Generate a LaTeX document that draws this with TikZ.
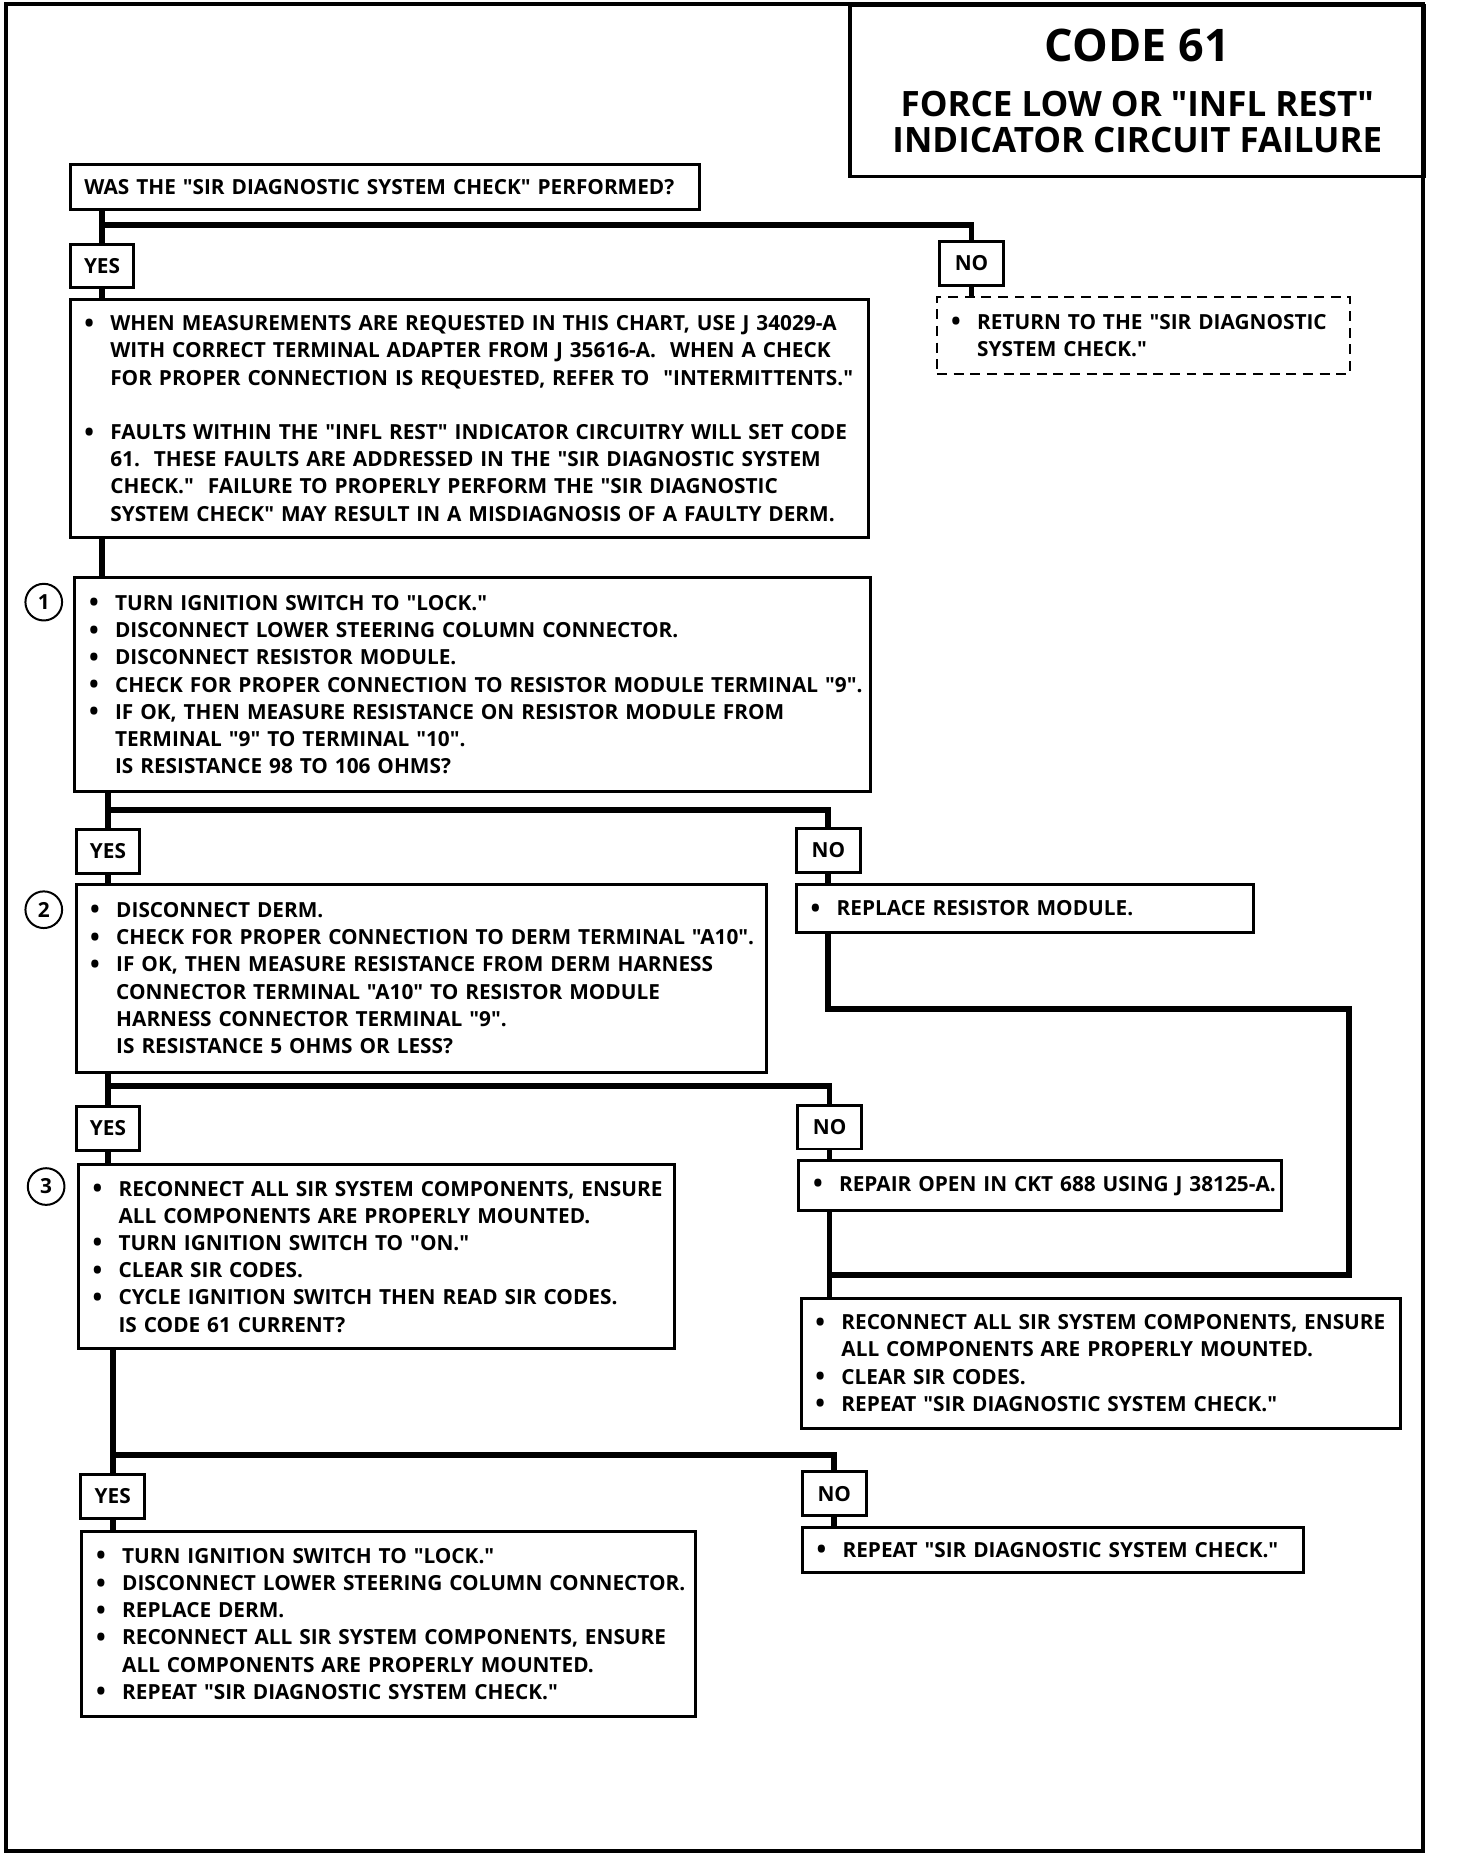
\documentclass[tikz,border=0pt]{standalone}
\usepackage{fontspec}
\newfontfamily\chartfont{Open Sans}

\newlength{\pu}
\setlength{\pu}{0.025cm}
\newcommand{\dotmark}{\smash{\raisebox{-0.9pt}{\fontsize{15.5}{15.5}\selectfont\textbullet}}}
\newcommand{\itm}[1]{\makebox[22\pu][l]{\dotmark}\mbox{#1}}
\newcommand{\cnt}[1]{\hspace*{22\pu}\mbox{#1}}

\tikzset{
    box/.style 2 args={draw, line width=1.8pt, anchor=north west, text width=#1\pu,
        minimum height=#2\pu, inner xsep=12\pu, inner ysep=0pt, align=left,
        font=\chartfont\bfseries\fontsize{12.5}{16.36}\selectfont},
    lbl/.style={draw, line width=1.8pt, anchor=north west, minimum width=54\pu,
        minimum height=37\pu, inner sep=0pt, font=\chartfont\bfseries\fontsize{12.5}{15}\selectfont},
    num/.style={draw, circle, line width=1.2pt, minimum size=31\pu, inner sep=0pt,
        font=\chartfont\bfseries\fontsize{12.5}{15}\selectfont},
    flow/.style={line width=3.5pt},
}

\begin{document}
\begin{tikzpicture}[x=0.025cm, y=-0.025cm]
    \useasboundingbox (0,0) rectangle (1231,1574);
    \draw[line width=2.4pt] (5,3) rectangle (1203,1565);

    \node[draw, line width=2pt, anchor=north west, minimum width=486\pu, minimum height=145\pu,
        align=center, font=\chartfont\bfseries\fontsize{21}{22}\selectfont] (title) at (717,3)
        {{\fontsize{27}{30}\selectfont CODE 61}\\[11pt]FORCE LOW OR "INFL REST"\\INDICATOR CIRCUIT FAILURE};

    \node[box={508}{38}] (q) at (58,138) {\mbox{WAS THE "SIR DIAGNOSTIC SYSTEM CHECK" PERFORMED?}};
    \coordinate (bar1) at (0,190);
    \node[lbl] (yes1) at (58,205) {YES};
    \node[lbl] (no1) at (793,203) {NO};

    \node[box={325}{65}, dash pattern=on 6pt off 4pt, line width=1.5pt] (ret) at (791,250)
        {\itm{RETURN TO THE "SIR DIAGNOSTIC}\\\cnt{SYSTEM CHECK."}};

    \node[box={651}{201}] (boxA) at (58,252)
        {\itm{WHEN MEASUREMENTS ARE REQUESTED IN THIS CHART, USE J 34029-A}\\
         \cnt{WITH CORRECT TERMINAL ADAPTER FROM J 35616-A.\ \ WHEN A CHECK}\\
         \cnt{FOR PROPER CONNECTION IS REQUESTED, REFER TO\ \ "INTERMITTENTS."}\\[23\pu]
         \itm{FAULTS WITHIN THE "INFL REST" INDICATOR CIRCUITRY WILL SET CODE}\\
         \cnt{61.\ \ THESE FAULTS ARE ADDRESSED IN THE "SIR DIAGNOSTIC SYSTEM}\\
         \cnt{CHECK."\ \ FAILURE TO PROPERLY PERFORM THE "SIR DIAGNOSTIC}\\
         \cnt{SYSTEM CHECK" MAY RESULT IN A MISDIAGNOSIS OF A FAULTY DERM.}};

    % step 1
    \node[num] (n1) at (37,509) {1};
    \node[box={649}{181}] (box1) at (62,487)
        {\itm{TURN IGNITION SWITCH TO "LOCK."}\\
         \itm{DISCONNECT LOWER STEERING COLUMN CONNECTOR.}\\
         \itm{DISCONNECT RESISTOR MODULE.}\\
         \itm{CHECK FOR PROPER CONNECTION TO RESISTOR MODULE TERMINAL "9".}\\
         \itm{IF OK, THEN MEASURE RESISTANCE ON RESISTOR MODULE FROM}\\
         \cnt{TERMINAL "9" TO TERMINAL "10".}\\
         \cnt{IS RESISTANCE 98 TO 106 OHMS?}};
    \coordinate (bar2) at (0,685);
    \node[lbl] (yes2) at (63,700) {YES};
    \node[lbl] (no2) at (672,699) {NO};
    \node[box={362}{41}] (repl) at (672,746) {\itm{REPLACE RESISTOR MODULE.}};

    % step 2
    \node[num] (n2) at (37,769) {2};
    \node[box={560}{159}] (box2) at (63,746)
        {\itm{DISCONNECT DERM.}\\
         \itm{CHECK FOR PROPER CONNECTION TO DERM TERMINAL "A10".}\\
         \itm{IF OK, THEN MEASURE RESISTANCE FROM DERM HARNESS}\\
         \cnt{CONNECTOR TERMINAL "A10" TO RESISTOR MODULE}\\
         \cnt{HARNESS CONNECTOR TERMINAL "9".}\\
         \cnt{IS RESISTANCE 5 OHMS OR LESS?}};
    \coordinate (bar3) at (0,918);
    \coordinate (loop) at (1140,853);
    \coordinate (join) at (0,1078);
    \node[lbl] (yes3) at (63,934) {YES};
    \node[lbl] (no3) at (673,933) {NO};
    \node[box={384}{42}] (repair) at (674,980) {\itm{REPAIR OPEN IN CKT 688 USING J 38125-A.}};
    \node[box={483}{110}] (boxR) at (676,1096)
        {\itm{RECONNECT ALL SIR SYSTEM COMPONENTS, ENSURE}\\
         \cnt{ALL COMPONENTS ARE PROPERLY MOUNTED.}\\
         \itm{CLEAR SIR CODES.}\\
         \itm{REPEAT "SIR DIAGNOSTIC SYSTEM CHECK."}};

    % step 3
    \node[num] (n3) at (39,1003) {3};
    \node[box={480}{156}] (box3) at (65,983)
        {\itm{RECONNECT ALL SIR SYSTEM COMPONENTS, ENSURE}\\
         \cnt{ALL COMPONENTS ARE PROPERLY MOUNTED.}\\
         \itm{TURN IGNITION SWITCH TO "ON."}\\
         \itm{CLEAR SIR CODES.}\\
         \itm{CYCLE IGNITION SWITCH THEN READ SIR CODES.}\\
         \cnt{IS CODE 61 CURRENT?}};
    \coordinate (bar4) at (0,1230);
    \node[lbl] (yes4) at (67,1245) {YES};
    \node[lbl] (no4) at (677,1243) {NO};
    \node[box={495}{157}] (boxY) at (68,1293)
        {\itm{TURN IGNITION SWITCH TO "LOCK."}\\
         \itm{DISCONNECT LOWER STEERING COLUMN CONNECTOR.}\\
         \itm{REPLACE DERM.}\\
         \itm{RECONNECT ALL SIR SYSTEM COMPONENTS, ENSURE}\\
         \cnt{ALL COMPONENTS ARE PROPERLY MOUNTED.}\\
         \itm{REPEAT "SIR DIAGNOSTIC SYSTEM CHECK."}};
    \node[box={400}{38}] (boxN) at (677,1290) {\itm{REPEAT "SIR DIAGNOSTIC SYSTEM CHECK."}};

    % connectors
    \draw[flow] (q.south -| yes1) -- (yes1.north);
    \draw[flow] (bar1 -| yes1) -| (no1.north);
    \draw[flow] (yes1.south) -- (boxA.north -| yes1);
    \draw[flow] (no1.south) -- (ret.north -| no1);
    \draw[flow] (boxA.south -| yes1) -- (box1.north -| yes1);

    \draw[flow] (box1.south -| yes2) -- (yes2.north);
    \draw[flow] (bar2 -| yes2) -| (no2.north);
    \draw[flow] (yes2.south) -- (box2.north -| yes2);
    \draw[flow] (no2.south) -- (repl.north -| no2);
    \draw[flow] (repl.south -| no2) |- (loop) |- (join -| no3);

    \draw[flow] (box2.south -| yes3) -- (yes3.north);
    \draw[flow] (bar3 -| yes3) -| (no3.north);
    \draw[flow] (yes3.south) -- (box3.north -| yes3);
    \draw[flow] (no3.south) -- (repair.north -| no3);
    \draw[flow] (repair.south -| no3) -- (boxR.north -| no3);

    \draw[flow] (box3.south -| yes4) -- (yes4.north);
    \draw[flow] (bar4 -| yes4) -| (no4.north);
    \draw[flow] (yes4.south) -- (boxY.north -| yes4);
    \draw[flow] (no4.south) -- (boxN.north -| no4);
\end{tikzpicture}
\end{document}
